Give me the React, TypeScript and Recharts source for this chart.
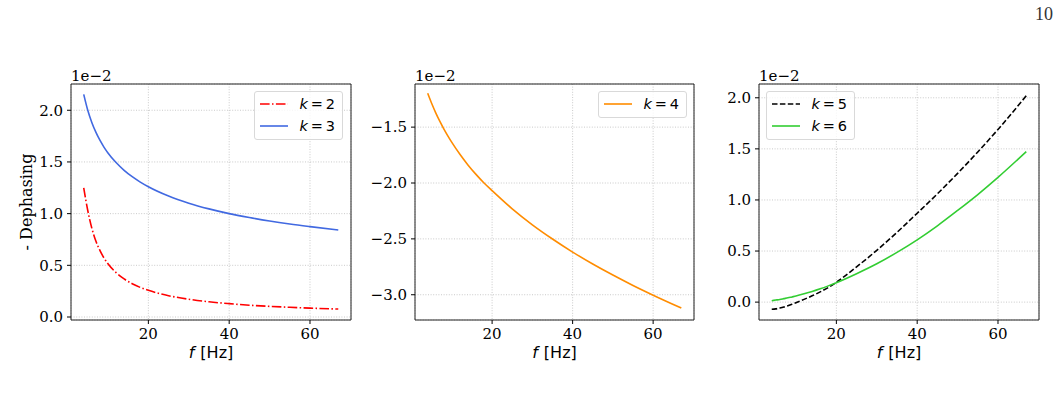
import React from "react";
import { LineChart, Line, XAxis, YAxis, CartesianGrid, ReferenceArea, Legend } from "recharts";

// frequencies (Hz) the curves are sampled at
const freq = [4, 5, 6, 7, 8, 9, 10, 12, 14, 16, 18, 20, 25, 30, 35, 40, 45, 50, 55, 60, 67];

// values in units of 1e-2
const k2 = [1.25, 1.03, 0.86, 0.735, 0.645, 0.572, 0.515, 0.43, 0.368, 0.322, 0.286, 0.258, 0.206, 0.172, 0.147, 0.129, 0.114, 0.103, 0.094, 0.086, 0.077];
const k3 = [2.154, 2.0, 1.882, 1.788, 1.71, 1.644, 1.587, 1.494, 1.419, 1.357, 1.305, 1.26, 1.17, 1.101, 1.046, 1.0, 0.962, 0.928, 0.899, 0.874, 0.842];
const k4 = [-1.197, -1.289, -1.372, -1.447, -1.515, -1.578, -1.637, -1.743, -1.838, -1.923, -2.0, -2.068, -2.231, -2.374, -2.501, -2.618, -2.725, -2.824, -2.917, -3.004, -3.119];
const k5 = [-0.07, -0.066, -0.058, -0.048, -0.035, -0.021, -0.006, 0.027, 0.062, 0.1, 0.143, 0.195, 0.345, 0.507, 0.683, 0.87, 1.06, 1.26, 1.47, 1.69, 2.02];
const k6 = [0.014, 0.02, 0.026, 0.034, 0.042, 0.051, 0.06, 0.081, 0.104, 0.13, 0.159, 0.19, 0.278, 0.375, 0.487, 0.61, 0.747, 0.897, 1.053, 1.221, 1.473];

const xTicks = [20, 40, 60];
const yTicksA = [0, 0.5, 1, 1.5, 2];
const yTicksB = [-3, -2.5, -2, -1.5];

const rows = freq.map((f, i) => ({ f, k2: k2[i], k3: k3[i], k4: k4[i], k5: k5[i], k6: k6[i] }));

const X_DOMAIN: [number, number] = [0.85, 70.15];
const SERIF = "'DejaVu Serif', serif";
const SANS = "'DejaVu Sans', sans-serif";

type Series = { key: string; k: number; color: string; dash?: string };

const fmt = (v: number) => v.toFixed(1).replace("-", "\u2212");

function LegendBox({ items }: { items: Series[] }) {
  return (
    <div
      style={{
        border: "1px solid #d9d9d9",
        borderRadius: 3,
        background: "rgba(255,255,255,0.8)",
        padding: "1px 7px 2px 5px",
        boxSizing: "border-box",
        width: 89,
      }}
    >
      {items.map((s) => (
        <div key={s.key} style={{ display: "flex", alignItems: "center", height: 22 }}>
          <svg width={31} height={6} style={{ display: "block" }}>
            <line x1={0} y1={3} x2={31} y2={3} stroke={s.color} strokeWidth={1.6} strokeDasharray={s.dash} />
          </svg>
          <span style={{ marginLeft: 11, fontFamily: SANS, fontSize: 14.5, color: "#000", whiteSpace: "nowrap" }}>
            <i>k</i>
            {"\u2009=\u2009"}
            {s.k}
          </span>
        </div>
      ))}
    </div>
  );
}

function Panel(props: {
  left: number;
  width: number;
  yWidth: number;
  marginLeft: number;
  marginRight: number;
  yDomain: [number, number];
  yTicks: number[];
  series: Series[];
  legendLeft: number;
  legendTop: number;
}) {
  const { left, width, yWidth, marginLeft, marginRight, yDomain, yTicks, series, legendLeft, legendTop } = props;
  const plotLeft = left + marginLeft + yWidth;
  const plotRight = left + width - marginRight;
  return (
    <>
      <div style={{ position: "absolute", left, top: 60 }}>
        <LineChart width={width} height={300} data={rows} margin={{ top: 24, right: marginRight, bottom: 10, left: marginLeft }}>
          <CartesianGrid stroke="#bdbdbd" strokeDasharray="1 1.6" strokeWidth={0.8} />
          <XAxis
            dataKey="f"
            type="number"
            domain={X_DOMAIN}
            ticks={xTicks}
            allowDataOverflow
            height={30}
            axisLine={false}
            tickSize={4}
            tickMargin={4}
            tickLine={{ stroke: "#000" }}
            tick={{ fontFamily: SERIF, fontSize: 15, fill: "#000" }}
          />
          <YAxis
            type="number"
            domain={yDomain}
            ticks={yTicks}
            allowDataOverflow
            width={yWidth}
            axisLine={false}
            tickSize={4}
            tickMargin={4}
            tickLine={{ stroke: "#000" }}
            tickFormatter={fmt}
            tick={{ fontFamily: SERIF, fontSize: 15, fill: "#000" }}
          />
          {series.map((s) => (
            <Line
              key={s.key}
              type="monotone"
              dataKey={s.key}
              stroke={s.color}
              strokeWidth={1.6}
              strokeDasharray={s.dash}
              dot={false}
              isAnimationActive={false}
            />
          ))}
          <ReferenceArea
            x1={X_DOMAIN[0]}
            x2={X_DOMAIN[1]}
            y1={yDomain[0]}
            y2={yDomain[1]}
            fill="none"
            fillOpacity={0}
            stroke="#222"
            strokeWidth={1}
            ifOverflow="visible"
          />
          <Legend
            layout="vertical"
            align="center"
            verticalAlign="middle"
            wrapperStyle={{ left: legendLeft, top: legendTop, width: 89 }}
            content={() => <LegendBox items={series} />}
          />
        </LineChart>
      </div>
      <div style={{ position: "absolute", left: plotLeft, top: 68, fontFamily: SERIF, fontSize: 15, lineHeight: "16px" }}>
        1e{"\u2212"}2
      </div>
      <div
        style={{
          position: "absolute",
          left: (plotLeft + plotRight) / 2 - 60,
          width: 120,
          top: 344,
          textAlign: "center",
          fontFamily: SANS,
          fontSize: 16,
          lineHeight: "18px",
        }}
      >
        <i style={{ marginRight: 6 }}>f</i>[Hz]
      </div>
    </>
  );
}

export default function App() {
  return (
    <div style={{ position: "absolute", left: 0, top: 0, width: 1061, height: 402, background: "#fff", overflow: "hidden" }}>
      <div style={{ position: "absolute", left: 1035, top: 4, fontFamily: "'Liberation Serif', serif", fontSize: 18, color: "#333" }}>10</div>
      <Panel
        left={0}
        width={360}
        yWidth={60}
        marginLeft={11}
        marginRight={9}
        yDomain={[-0.029, 2.254]}
        yTicks={yTicksA}
        series={[
          { key: "k2", k: 2, color: "#ff0000", dash: "9.6 2.4 1.5 2.4" },
          { key: "k3", k: 3, color: "#4169e1" },
        ]}
        legendLeft={254}
        legendTop={31}
      />
      <Panel
        left={355}
        width={350}
        yWidth={60}
        marginLeft={0}
        marginRight={11}
        yDomain={[-3.226, -1.114]}
        yTicks={yTicksB}
        series={[{ key: "k4", k: 4, color: "#ff8c00" }]}
        legendLeft={243}
        legendTop={31}
      />
      <Panel
        left={700}
        width={361}
        yWidth={59}
        marginLeft={0}
        marginRight={22}
        yDomain={[-0.175, 2.135]}
        yTicks={yTicksA}
        series={[
          { key: "k5", k: 5, color: "#000000", dash: "5.5 2.4" },
          { key: "k6", k: 6, color: "#32cd32" },
        ]}
        legendLeft={66}
        legendTop={31}
      />
      <div
        style={{
          position: "absolute",
          left: 27,
          top: 202,
          transform: "translate(-50%, -50%) rotate(-90deg)",
          fontFamily: SERIF,
          fontSize: 16,
          whiteSpace: "nowrap",
          lineHeight: "18px",
        }}
      >
        - Dephasing
      </div>
    </div>
  );
}
